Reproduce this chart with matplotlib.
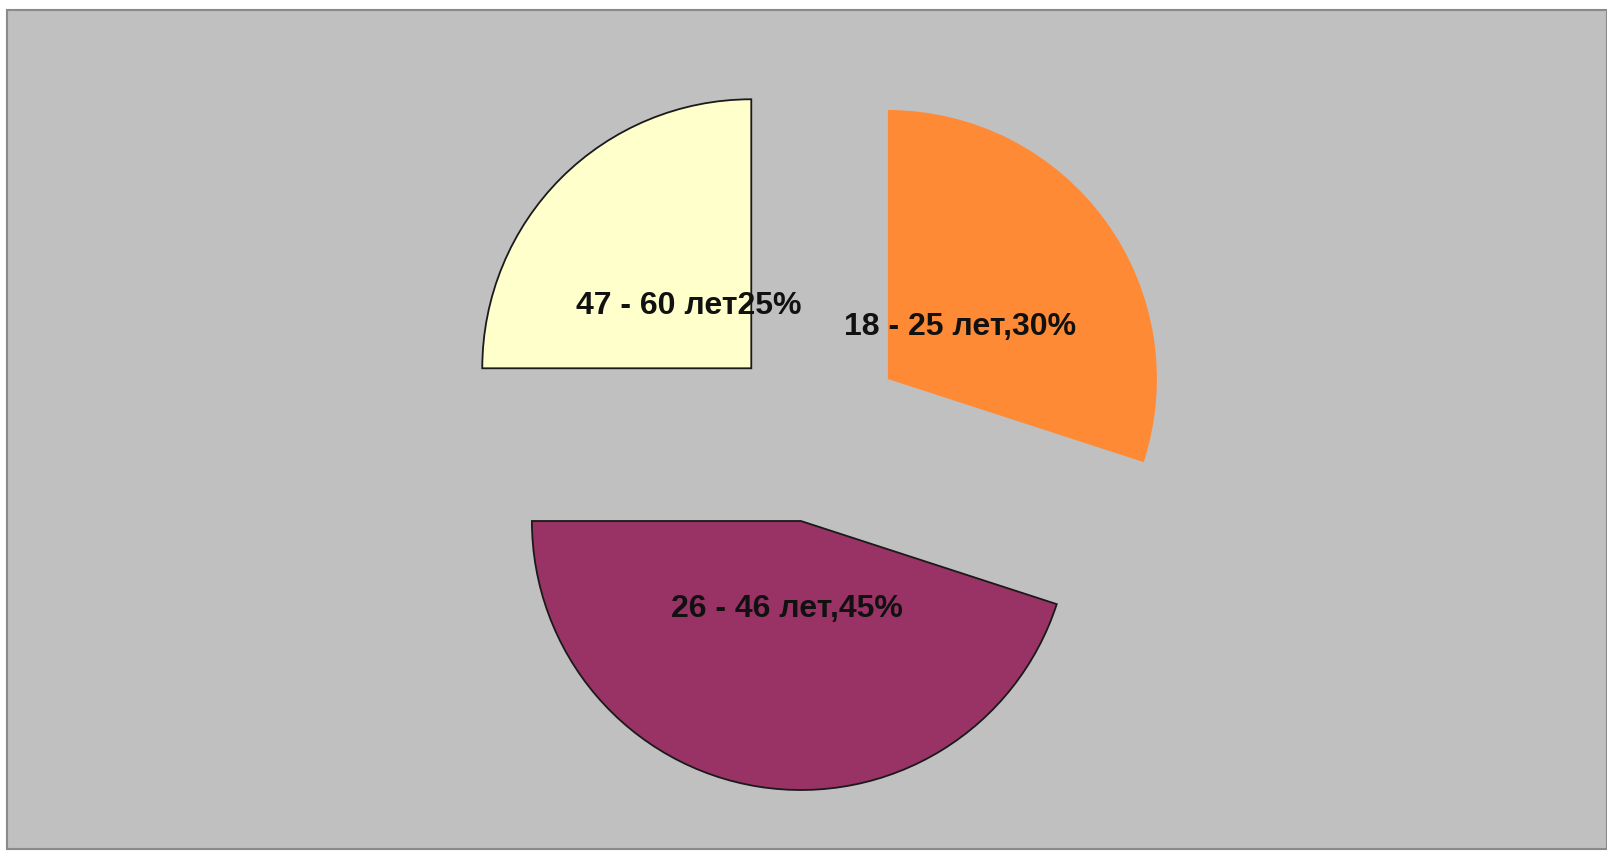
import matplotlib.pyplot as plt
from matplotlib.patches import Rectangle

# данные
groups = ["18 - 25 лет", "26 - 46 лет", "47 - 60 лет"]
shares = [30, 45, 25]
labels = ["18 - 25 лет,30%", "26 - 46 лет,45%", "47 - 60 лет25%"]
colors = ["#FF8A35", "#993366", "#FFFFCC"]
edges = ["none", "#1a1a1a", "#1a1a1a"]

W, H = 1608, 851
fig = plt.figure(figsize=(W / 100, H / 100), dpi=100)
fig.patch.set_facecolor("white")

# серая рамка
fig.patches.append(Rectangle((7 / W, 2 / H), (W - 8) / W, (H - 12) / H,
                             transform=fig.transFigure, facecolor="#C0C0C0",
                             edgecolor="#8a8a8a", linewidth=1.5, zorder=-10))

r = 269  # радиус в пикселях
cx, cy = 815, 432
half = 1.5 * r
ax = fig.add_axes([(cx - half) / W, (H - cy - half) / H, 2 * half / W, 2 * half / H])
ax.patch.set_alpha(0)

wedges, texts = ax.pie(shares, labels=labels, colors=colors, startangle=90,
                       counterclock=False, explode=[0.335] * 3,
                       labeldistance=0.33, radius=1,
                       textprops=dict(fontsize=23, fontweight="bold",
                                      family="Liberation Sans", color="#111111"))
for w, e in zip(wedges, edges):
    w.set_edgecolor(e)
    w.set_linewidth(1.3)
for t in texts:
    t.set_ha("center")
    t.set_va("center")
    t.set_zorder(5)

ax.set_xlim(-1.5, 1.5)
ax.set_ylim(-1.5, 1.5)
ax.axis("off")

plt.savefig("out.png", dpi=100)
